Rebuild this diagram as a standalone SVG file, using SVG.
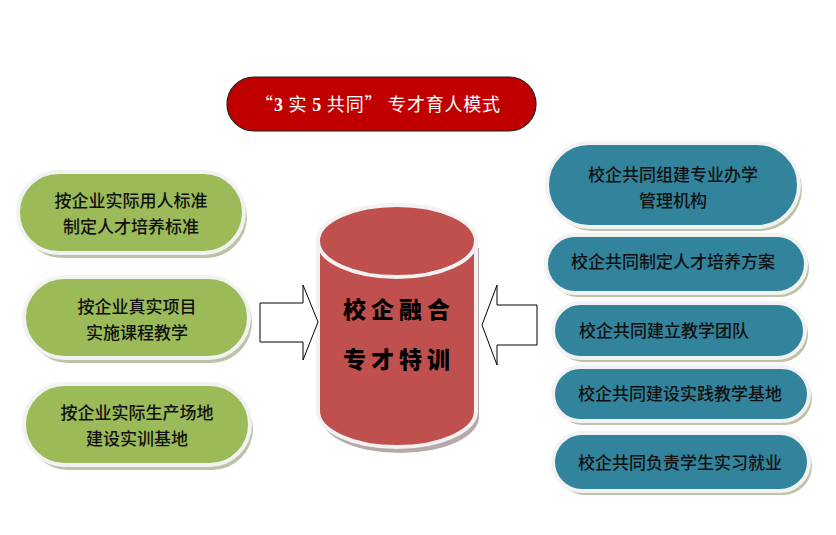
<svg xmlns="http://www.w3.org/2000/svg" width="836" height="535" viewBox="0 0 836 535">
<defs>
<style>
.sh{fill:#bcc3a6;}
.g{fill:#9bbb59;stroke:#f2f2f2;stroke-width:4;}
.b{fill:#31849b;stroke:#f2f2f2;stroke-width:4;}
.t{font-family:"Noto Sans CJK SC","Noto Sans",sans-serif;font-size:17px;font-weight:500;fill:#111;text-anchor:middle;}
.c{font-family:"Noto Sans CJK SC",sans-serif;font-size:23px;font-weight:900;fill:#000;text-anchor:middle;letter-spacing:5px;}
.arr{fill:#fff;stroke:#000;stroke-width:1;}
.tt{font-family:"Noto Sans CJK SC",sans-serif;font-size:18px;fill:#fff;letter-spacing:0.8px;}
.td{font-family:"Liberation Serif",serif;font-weight:bold;}
</style>
</defs>
<rect width="836" height="535" fill="#fff"/>
<g id="title">
<rect x="227" y="77" width="309" height="54" rx="27" fill="#c00000" stroke="#222" stroke-width="1.2"/>
<text class="tt" x="378" y="111" text-anchor="middle">“<tspan class="td">3</tspan> 实 <tspan class="td">5</tspan> 共同” 专才育人模式</text>
</g>
<g id="left1">
<rect class="sh" x="21" y="176" width="226" height="82" rx="41"/>
<rect class="g" x="18" y="172" width="226" height="81" rx="40.5"/>
<text class="t" x="131" y="207">按企业实际用人标准</text>
<text class="t" x="131" y="233">制定人才培养标准</text>
</g>
<g id="left2">
<rect class="sh" x="27" y="281" width="225" height="82" rx="41"/>
<rect class="g" x="24" y="277" width="225" height="81" rx="40.5"/>
<text class="t" x="137" y="313">按企业真实项目</text>
<text class="t" x="137" y="339">实施课程教学</text>
</g>
<g id="left3">
<rect class="sh" x="27" y="388" width="226" height="82" rx="41"/>
<rect class="g" x="24" y="384" width="226" height="81" rx="40.5"/>
<text class="t" x="137" y="419">按企业实际生产场地</text>
<text class="t" x="137" y="445">建设实训基地</text>
</g>
<g id="right1">
<rect class="sh" x="550" y="147" width="252" height="84" rx="42"/>
<rect class="b" x="547" y="143" width="252" height="84" rx="42"/>
<text class="t" x="673" y="181">校企共同组建专业办学</text>
<text class="t" x="673" y="207">管理机构</text>
</g>
<g id="right2">
<rect class="sh" x="549" y="239" width="260" height="58" rx="29"/>
<rect class="b" x="546" y="235" width="260" height="58" rx="29"/>
<text class="t" x="673" y="268">校企共同制定人才培养方案</text>
</g>
<g id="right3">
<rect class="sh" x="556" y="307" width="252" height="55" rx="27.5"/>
<rect class="b" x="553" y="303" width="252" height="55" rx="27.5"/>
<text class="t" x="664" y="337">校企共同建立教学团队</text>
</g>
<g id="right4">
<rect class="sh" x="556" y="371" width="256" height="54" rx="27"/>
<rect class="b" x="553" y="367" width="256" height="54" rx="27"/>
<text class="t" x="680" y="400">校企共同建设实践教学基地</text>
</g>
<g id="right5">
<rect class="sh" x="556" y="437" width="256" height="58" rx="29"/>
<rect class="b" x="553" y="433" width="256" height="58" rx="29"/>
<text class="t" x="680" y="469">校企共同负责学生实习就业</text>
</g>
<g id="center">
<path d="M319,245 L319,414 A79,36 0 0 0 477,414 L477,245 Z" fill="#b8a8a8" transform="translate(2,3)"/>
<path d="M318,241 L318,411 A79,36 0 0 0 476,411 L476,241 A79,36 0 0 0 318,241 Z" fill="#c0504d" stroke="#f2f2f2" stroke-width="4"/>
<ellipse cx="397" cy="241" rx="79" ry="36" fill="#c0504d" stroke="#f2f2f2" stroke-width="4"/>
<text class="c" x="399" y="318">校企融合</text>
<text class="c" x="399" y="368">专才特训</text>
</g>
<g id="connectors">
<polygon class="arr" points="260,303 303,303 303,285 318,322 303,360 303,342 260,342"/>
<polygon class="arr" points="537,305 497,305 497,285 482,325 497,365 497,345 537,345"/>
</g>
</svg>
